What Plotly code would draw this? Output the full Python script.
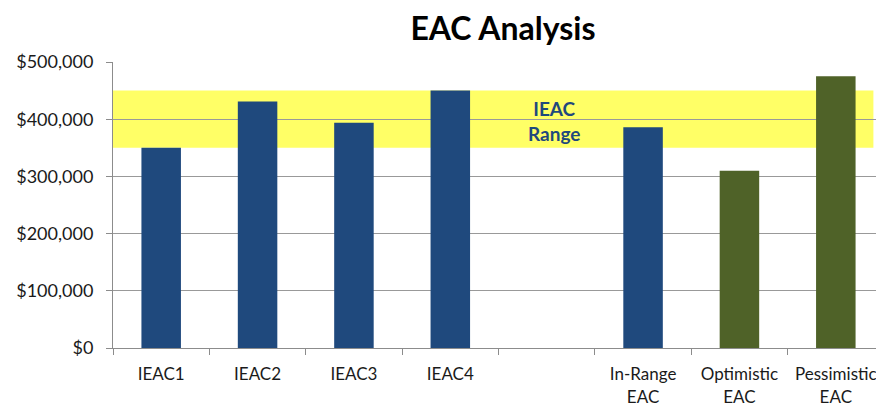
import plotly.graph_objects as go

categories = ["IEAC1", "IEAC2", "IEAC3", "IEAC4", " ", "In-Range<br>EAC", "Optimistic<br>EAC", "Pessimistic<br>EAC"]
values = [350000, 431000, 394000, 450000, None, 386000, 310000, 475000]
kinds = ["ieac", "ieac", "ieac", "ieac", "ieac", "ieac", "scenario", "scenario"]
range_low = 350000
range_high = 450000
y_ticks = [0, 100000, 200000, 300000, 400000, 500000]
y_tick_labels = ["$0", "$100,000", "$200,000", "$300,000", "$400,000", "$500,000"]

color_map = {"ieac": "#1F497D", "scenario": "#4F6228"}
FONT = "Lato, 'Open Sans', sans-serif"

fig = go.Figure()
fig.add_trace(go.Bar(
    x=categories, y=values,
    marker=dict(color=[color_map[k] for k in kinds], line=dict(width=0)),
    hoverinfo="x+y",
))

fig.add_shape(type="rect", xref="x", yref="y",
              x0=-0.5, x1=7.39, y0=range_low, y1=range_high,
              fillcolor="#FFFF66", line=dict(width=0), layer="below")

fig.add_annotation(x=4.08, y=397000, xref="x", yref="y",
                   text="IEAC<br>Range", showarrow=False,
                   font=dict(family=FONT, size=19, color="#1F497D", weight="bold"),
                   align="center")

fig.update_layout(
    width=876, height=401,
    margin=dict(l=105, r=0, t=54, b=61, autoexpand=False),
    paper_bgcolor="white", plot_bgcolor="white",
    showlegend=False,
    bargap=0.59,
    title=dict(text="<b>EAC Analysis</b>", x=0.565, xanchor="center", y=0.948, yanchor="middle",
               font=dict(family=FONT, size=32, color="#000000")),
    font=dict(family=FONT, size=17, color="#1a1a1a"),
)

fig.update_xaxes(
    type="category", showline=True, linecolor="#8c8c8c", linewidth=1,
    ticks="outside", tickson="boundaries", ticklen=6, tickcolor="#8c8c8c",
    showgrid=False, tickfont=dict(family=FONT, size=17, color="#1a1a1a"),
    ticklabelstandoff=11,
    range=[-0.5, 7.5], automargin=False,
)
fig.update_yaxes(
    range=[0, 500000], tickvals=y_ticks, ticktext=y_tick_labels,
    showline=True, linecolor="#8c8c8c", linewidth=1,
    ticks="outside", ticklen=6, tickcolor="#8c8c8c",
    showgrid=True, gridcolor="#999999", gridwidth=1,
    zeroline=False, tickfont=dict(family=FONT, size=18, color="#1a1a1a"),
    ticklabelstandoff=9,
    automargin=False,
)

fig.write_html("out.html")
